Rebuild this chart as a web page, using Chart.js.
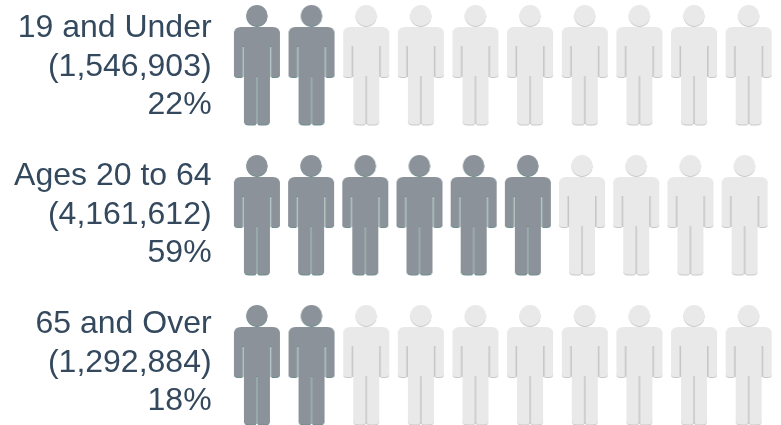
<canvas id="myChart" width="781" height="425"></canvas>

<style>
	body {
		margin: 0;
		background: #fff;
	}
	canvas {
		display: block;
	}
</style>
<script src="https://cdn.jsdelivr.net/npm/chart.js@4"></script>

<script>
	const categories = ["19 and Under", "Ages 20 to 64", "65 and Over"];
	const populations = ["(1,546,903)", "(4,161,612)", "(1,292,884)"];
	const percents = ["22%", "59%", "18%"];
	const filledIcons = [2, 6, 2];
	const columns = [1, 2, 3, 4, 5, 6, 7, 8, 9, 10];

	// one person, drawn once per colour and handed to chart.js as the point style
	function personPath(c) {
		c.beginPath();
		c.arc(24, 12.6, 10.6, 0, Math.PI * 2);
		c.closePath();
		c.moveTo(8, 24);
		c.lineTo(40, 24);
		c.quadraticCurveTo(47, 24, 47, 31);
		c.lineTo(47, 71);
		c.quadraticCurveTo(47, 74, 43, 74);
		c.lineTo(38.6, 74);
		c.lineTo(38.6, 43);
		c.lineTo(37, 43);
		c.lineTo(37, 117);
		c.quadraticCurveTo(37, 121.5, 32, 121.5);
		c.lineTo(27, 121.5);
		c.quadraticCurveTo(25, 121.5, 24.7, 120);
		c.lineTo(24.7, 73);
		c.lineTo(23.3, 73);
		c.lineTo(23.3, 120);
		c.quadraticCurveTo(23, 121.5, 21, 121.5);
		c.lineTo(16, 121.5);
		c.quadraticCurveTo(11, 121.5, 11, 117);
		c.lineTo(11, 43);
		c.lineTo(9.4, 43);
		c.lineTo(9.4, 74);
		c.lineTo(5, 74);
		c.quadraticCurveTo(1, 74, 1, 71);
		c.lineTo(1, 31);
		c.quadraticCurveTo(1, 24, 8, 24);
		c.closePath();
	}

	function makeIcon(fill, edge, gap) {
		const icon = document.createElement("canvas");
		icon.width = 48;
		icon.height = 124;
		const c = icon.getContext("2d");
		c.filter = "blur(0.6px)";
		// slits between arms and legs are tinted, not white
		c.strokeStyle = gap;
		c.lineWidth = 2;
		c.beginPath();
		c.moveTo(10.2, 43);
		c.lineTo(10.2, 74);
		c.moveTo(37.8, 43);
		c.lineTo(37.8, 74);
		c.moveTo(24, 73);
		c.lineTo(24, 121);
		c.stroke();
		c.save();
		c.translate(0, 1);
		c.fillStyle = edge;
		personPath(c);
		c.fill();
		c.restore();
		c.fillStyle = fill;
		personPath(c);
		c.fill();
		return icon;
	}

	const darkIcon = makeIcon("#8b9299", "#6f8e8f", "#b4c6c6");
	const lightIcon = makeIcon("#e9e9e9", "#c8c8c8", "#c4c4c4");

	const datasets = [];
	categories.forEach((name, row) => {
		columns.forEach((col) => {
			datasets.push({
				label: name,
				data: [{ x: col, y: row }],
				xAxisID: row === 1 ? "xMiddle" : "x",
				yAxisID: "yIcons",
				pointStyle: col <= filledIcons[row] ? darkIcon : lightIcon,
				clip: false,
			});
		});
	});

	const hiddenAxis = { display: false };
	const rowLabels = categories.map((name, i) => [name, populations[i], percents[i]]);

	new Chart(document.getElementById("myChart").getContext("2d"), {
		type: "scatter",
		data: { datasets: datasets },
		options: {
			responsive: false,
			animation: false,
			layout: {
				padding: { top: 65, bottom: 60, right: 3.4 },
			},
			plugins: {
				legend: { display: false },
				tooltip: { enabled: false },
			},
			scales: {
				x: { ...hiddenAxis, min: 0.5, max: 10.5 },
				// the middle row sits a touch tighter than the other two
				xMiddle: { ...hiddenAxis, min: 0.4957, max: 10.58 },
				yIcons: { ...hiddenAxis, reverse: true, min: 0, max: 2 },
				// labels run on their own axis, their rows are a bit closer than the icons
				y: {
					position: "left",
					reverse: true,
					min: -0.0135,
					max: 2.0135,
					border: { display: false },
					grid: { display: false },
					afterBuildTicks(scale) {
						scale.ticks = rowLabels.map((label, i) => ({ value: i }));
					},
					afterFit(scale) {
						scale.width = 229.6;
						scale.paddingTop = 0;
						scale.paddingBottom = 0;
					},
					ticks: {
						autoSkip: false,
						crossAlign: "near",
						padding: 10,
						color: "#34495e",
						font: { family: "'Liberation Sans'", size: 32, lineHeight: "38.4px" },
						callback: (value) => rowLabels[value],
					},
				},
			},
		},
	});
</script>
